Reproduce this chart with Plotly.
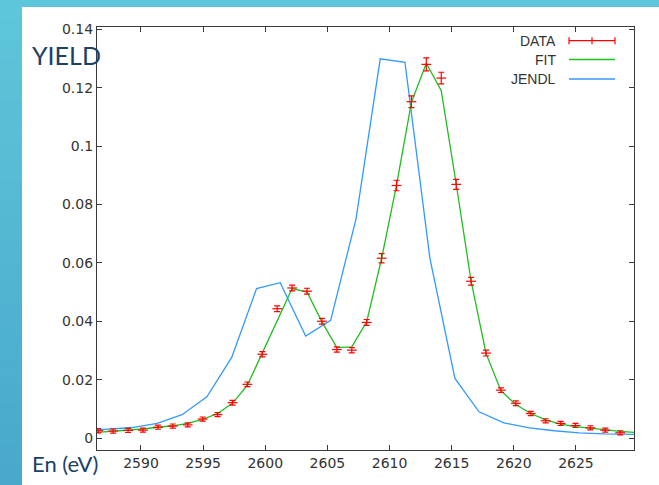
import plotly.graph_objects as go

# ---------------- data ----------------
data_energy = [2586.56, 2587.76, 2588.96, 2590.16, 2591.36, 2592.56, 2593.76, 2594.96,
               2596.16, 2597.36, 2598.56, 2599.76, 2600.96, 2602.16, 2603.36, 2604.56,
               2605.76, 2606.96, 2608.16, 2609.36, 2610.56, 2611.76, 2612.96, 2614.16,
               2615.36, 2616.56, 2617.76, 2618.96, 2620.16, 2621.36, 2622.56, 2623.76,
               2624.96, 2626.16, 2627.36, 2628.56]
data_yield = [0.0025, 0.0024, 0.0026, 0.0027, 0.0037, 0.0041, 0.0045, 0.0065,
              0.0080, 0.0121, 0.0184, 0.0287, 0.0443, 0.0514, 0.0503, 0.0400,
              0.0303, 0.0301, 0.0396, 0.0616, 0.0865, 0.1152, 0.1280, 0.1233,
              0.0869, 0.0537, 0.0291, 0.0164, 0.0119, 0.0084, 0.0059, 0.0050,
              0.0043, 0.0035, 0.0027, 0.0018]
data_err = [0.0007, 0.0007, 0.0007, 0.0007, 0.0007, 0.0007, 0.0007, 0.0007,
            0.0007, 0.0008, 0.0008, 0.0009, 0.0010, 0.0010, 0.0010, 0.0010,
            0.0009, 0.0009, 0.0010, 0.0016, 0.0018, 0.0020, 0.0022, 0.0020,
            0.0017, 0.0013, 0.0010, 0.0008, 0.0008, 0.0007, 0.0007, 0.0007,
            0.0007, 0.0007, 0.0007, 0.0007]

fit_energy = [2586.4, 2587.76, 2588.96, 2590.16, 2591.36, 2592.56, 2593.76, 2594.96,
              2596.16, 2597.36, 2598.56, 2599.76, 2600.96, 2602.16, 2603.36, 2604.56,
              2605.76, 2606.96, 2608.16, 2609.36, 2610.56, 2611.76, 2612.96, 2614.16,
              2615.36, 2616.56, 2617.76, 2618.96, 2620.16, 2621.36, 2622.56, 2623.76,
              2624.96, 2626.16, 2627.36, 2628.56, 2629.8]
fit_yield = [0.0019, 0.0023, 0.0027, 0.0031, 0.0037, 0.0042, 0.0050, 0.0064,
             0.0084, 0.0119, 0.0181, 0.0290, 0.0404, 0.0512, 0.0500, 0.0398,
             0.0310, 0.0312, 0.0398, 0.0615, 0.0866, 0.1150, 0.1284, 0.1190,
             0.0871, 0.0538, 0.0290, 0.0162, 0.0115, 0.0084, 0.0062, 0.0048,
             0.0039, 0.0033, 0.0027, 0.0023, 0.0019]

jendl_energy = [2585.3, 2587.3, 2589.3, 2591.3, 2593.3, 2595.3, 2597.3, 2599.3,
                2601.2, 2603.25, 2605.26, 2607.3, 2609.25, 2611.24, 2613.25, 2615.26,
                2617.2, 2619.2, 2621.25, 2623.26, 2625.27, 2627.28, 2629.3, 2631.3]
jendl_yield = [0.0025, 0.0030, 0.0036, 0.0050, 0.0080, 0.0141, 0.0276, 0.0512,
               0.0532, 0.0349, 0.0403, 0.0750, 0.1299, 0.1287, 0.0615, 0.0204,
               0.0090, 0.0052, 0.0035, 0.0025, 0.0018, 0.0014, 0.0013, 0.0012]

x_tick_vals = [2590, 2595, 2600, 2605, 2610, 2615, 2620, 2625]
y_tick_vals = [0, 0.02, 0.04, 0.06, 0.08, 0.1, 0.12, 0.14]
y_tick_text = ["0", "0.02", "0.04", "0.06", "0.08", "0.1", "0.12", "0.14"]

legend_labels = ["DATA", "FIT", "JENDL"]

# ---------------- style ----------------
RED = "#ff0000"
GREEN = "#1ebe1e"
BLUE = "#3399ff"
AXIS = "#3a3a3a"
TXT = "#333333"
TITLE = "#1b4264"
BG = "#5ec6da"

W, H = 659, 485
L, R, T, B = 97, 634, 27, 450


def px(x):
    return (x - L) / (R - L)


def py(y):
    return (B - y) / (B - T)


fig = go.Figure()

fig.add_trace(go.Scatter(
    x=jendl_energy, y=jendl_yield, mode="lines", name="JENDL",
    line=dict(color=BLUE, width=1.3), showlegend=False))

fig.add_trace(go.Scatter(
    x=fit_energy, y=fit_yield, mode="lines", name="FIT",
    line=dict(color=GREEN, width=1.3), showlegend=False))

fig.add_trace(go.Scatter(
    x=data_energy, y=data_yield, mode="markers", name="DATA",
    marker=dict(symbol="line-ew", size=7, color=RED,
                line=dict(color=RED, width=1.2)),
    error_y=dict(type="data", array=data_err, visible=True,
                 color=RED, thickness=1.2, width=3),
    showlegend=False))

shapes = []
# subtle vertical gradient on the left cyan strip
n_bands = 24
top_rgb = (0x5e, 0xc6, 0xda)
bot_rgb = (0x49, 0xa8, 0xcb)
for i in range(n_bands):
    f = i / (n_bands - 1)
    c = tuple(int(round(a + (b - a) * f)) for a, b in zip(top_rgb, bot_rgb))
    y0 = H * i / n_bands
    y1 = H * (i + 1) / n_bands + 1
    shapes.append(dict(type="rect", xref="paper", yref="paper",
                       x0=px(-5), x1=px(22), y0=py(y1), y1=py(y0),
                       fillcolor="rgb(%d,%d,%d)" % c, line=dict(width=0), layer="below"))
# white panel
shapes.append(dict(type="rect", xref="paper", yref="paper",
                   x0=px(22), x1=px(700), y0=py(520), y1=py(7),
                   fillcolor="white", line=dict(width=0), layer="below"))

# custom gnuplot-style legend
leg_y = [40.7, 59.5, 79]
leg_colors = [RED, GREEN, BLUE]
annotations = []
for lab, yy, col in zip(legend_labels, leg_y, leg_colors):
    annotations.append(dict(text=lab, xref="paper", yref="paper",
                            x=px(558), y=py(yy), xanchor="right", yanchor="middle",
                            showarrow=False,
                            font=dict(family="Liberation Sans, Arial", size=14, color=TXT)))
    shapes.append(dict(type="line", xref="paper", yref="paper",
                       x0=px(569), x1=px(615), y0=py(yy), y1=py(yy),
                       line=dict(color=col, width=1.3)))
for xx in (569, 592, 615):
    shapes.append(dict(type="line", xref="paper", yref="paper",
                       x0=px(xx), x1=px(xx), y0=py(leg_y[0] - 3.5), y1=py(leg_y[0] + 3.5),
                       line=dict(color=RED, width=1.2)))

annotations.append(dict(text="YIELD", xref="paper", yref="paper",
                        x=px(30), y=py(55), xanchor="left", yanchor="middle",
                        showarrow=False,
                        font=dict(family="Lato", size=25, color=TITLE)))
annotations.append(dict(text="En (eV)", xref="paper", yref="paper",
                        x=px(30), y=py(463), xanchor="left", yanchor="middle",
                        showarrow=False,
                        font=dict(family="Lato", size=22, color=TITLE)))

fig.update_layout(
    width=W, height=H,
    margin=dict(l=L, r=W - R, t=T, b=H - B),
    paper_bgcolor=BG, plot_bgcolor="white",
    shapes=shapes, annotations=annotations,
    showlegend=False,
    xaxis=dict(range=[2586.46, 2629.67], tickvals=x_tick_vals,
               showgrid=False, zeroline=False,
               showline=True, linecolor=AXIS, linewidth=1.3, mirror="ticks",
               ticks="inside", ticklen=5, tickwidth=1, tickcolor=AXIS,
               tickfont=dict(family="DejaVu Sans", size=14, color=TXT)),
    yaxis=dict(range=[-0.0041, 0.1408], tickvals=y_tick_vals, ticktext=y_tick_text,
               showgrid=False, zeroline=False,
               showline=True, linecolor=AXIS, linewidth=1.3, mirror="ticks",
               ticks="inside", ticklen=5, tickwidth=1, tickcolor=AXIS,
               tickfont=dict(family="DejaVu Sans", size=14, color=TXT)),
)

fig.write_html("out.html",
               config={"displayModeBar": False},
               post_script="document.body.style.margin='0';"
                           "document.body.style.background='%s';" % BG)
